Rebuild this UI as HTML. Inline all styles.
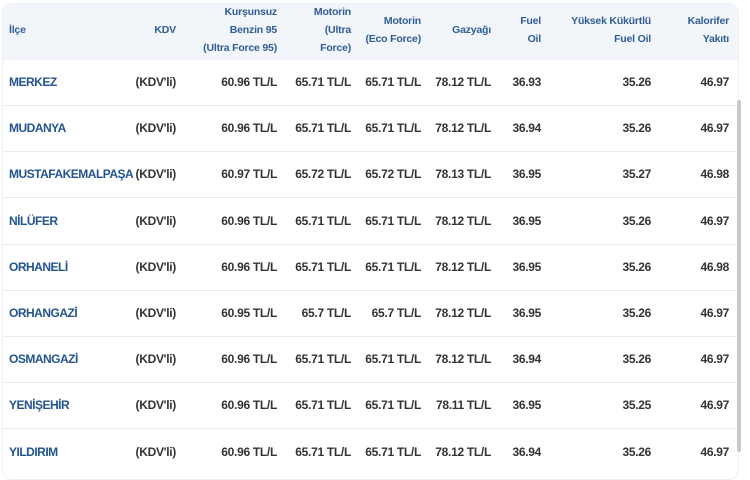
<!DOCTYPE html>
<html><head><meta charset="utf-8"><style>
body{margin:0;width:750px;height:480px;background:#fff;font-family:"Liberation Sans",sans-serif;position:relative;overflow:hidden}
.box{position:absolute;left:2px;top:3px;width:735px;height:475px;border:1px solid #eceff3;border-radius:10px;overflow:hidden}
.hd{position:absolute;left:0;top:0;width:735px;height:56px;background:#f2f5f9}
.t{position:absolute;font-weight:bold;white-space:nowrap}
.h{font-size:10.5px;color:#2f5d94;line-height:18px;text-align:right;letter-spacing:-0.2px}
.r{font-size:12px;color:#333;text-align:right;letter-spacing:-0.3px}
.n{font-size:12px;color:#23548f;letter-spacing:-0.5px}
.line{position:absolute;left:0;width:735px;height:1px;background:#e9ecef}
.sb{position:absolute;left:737px;top:100px;width:4px;height:352px;background:#c8c8c8;border-radius:2px}
</style></head><body>
<div class="box"><div class="hd"></div></div>
<div class="sb"></div>
<div id="c"></div>
<script>
var c=document.getElementById('c');
function add(cls,txt,x,y,right){var d=document.createElement('div');d.className='t '+cls;d.innerHTML=txt;d.style.top=y+'px';if(right){d.style.right=(750-x)+'px'}else d.style.left=x+'px';c.appendChild(d);}
add('h','İlçe',9,21,false);
add('h','KDV',176,21,true);
add('h','Kurşunsuz<br>Benzin 95<br>(Ultra Force 95)',277,3,true);
add('h','Motorin<br>(Ultra<br>Force)',351,3,true);
add('h','Motorin<br>(Eco Force)',421,12,true);
add('h','Gazyağı',491,21,true);
add('h','Fuel<br>Oil',541,12,true);
add('h','Yüksek Kükürtlü<br>Fuel Oil',651,12,true);
add('h','Kalorifer<br>Yakıtı',729,12,true);
var rows=[["MERKEZ","60.96","65.71","65.71","78.12","36.93","35.26","46.97"],
["MUDANYA","60.96","65.71","65.71","78.12","36.94","35.26","46.97"],
["MUSTAFAKEMALPAŞA","60.97","65.72","65.72","78.13","36.95","35.27","46.98"],
["NİLÜFER","60.96","65.71","65.71","78.12","36.95","35.26","46.97"],
["ORHANELİ","60.96","65.71","65.71","78.12","36.95","35.26","46.98"],
["ORHANGAZİ","60.95","65.7","65.7","78.12","36.95","35.26","46.97"],
["OSMANGAZİ","60.96","65.71","65.71","78.12","36.94","35.26","46.97"],
["YENİŞEHİR","60.96","65.71","65.71","78.11","36.95","35.25","46.97"],
["YILDIRIM","60.96","65.71","65.71","78.12","36.94","35.26","46.97"]];
rows.forEach(function(r,i){var y=75+i*46.2;
add('n',r[0],9,y,false);add('r',"(KDV'li)",176,y,true);
add('r',r[1]+' TL/L',277,y,true);add('r',r[2]+' TL/L',351,y,true);add('r',r[3]+' TL/L',421,y,true);add('r',r[4]+' TL/L',491,y,true);
add('r',r[5],541,y,true);add('r',r[6],651,y,true);add('r',r[7],729,y,true);
if(i<8){var l=document.createElement('div');l.className='line';l.style.left='3px';l.style.top=(105+i*46.2)+'px';c.appendChild(l);}
});
</script>
</body></html>
